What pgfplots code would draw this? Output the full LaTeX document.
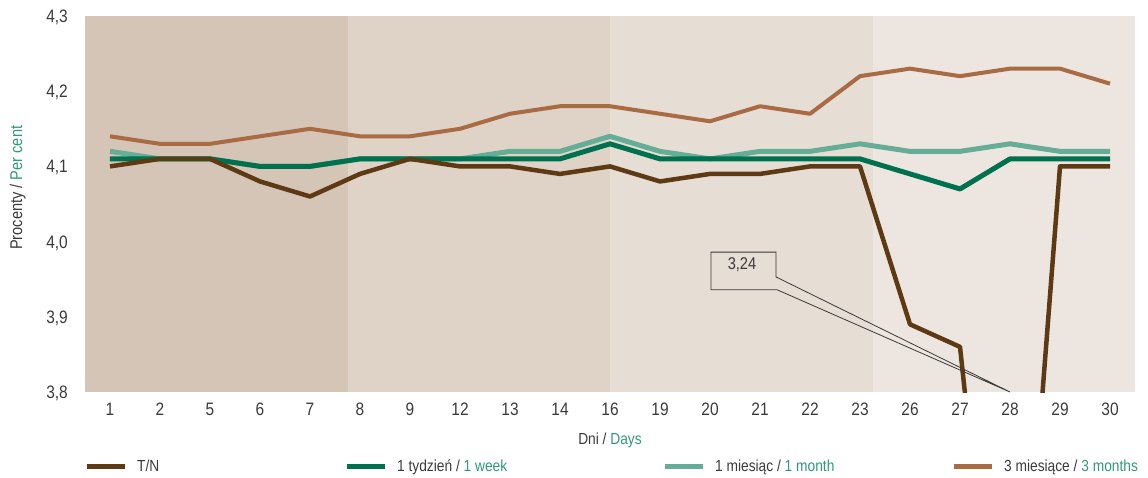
\documentclass[border=0pt]{standalone}
\usepackage{pgfplots}
\pgfplotsset{compat=1.18}
\usepackage{fontspec}
\setmainfont{Liberation Sans}[FakeStretch=0.86]
\definecolor{tn}{HTML}{5E3A14}
\definecolor{wk}{HTML}{00714F}
\definecolor{mo}{HTML}{66AD97}
\definecolor{tm}{HTML}{A86B43}
\definecolor{bandA}{HTML}{D5C5B6}
\definecolor{bandB}{HTML}{DFD3C7}
\definecolor{bandC}{HTML}{E6DDD4}
\definecolor{bandD}{HTML}{EDE6E0}
\definecolor{txt}{HTML}{3A3A3A}
\definecolor{eng}{HTML}{2E9A78}
\pgfplotstableread{
x tn wk mo tm
0 4.10 4.11 4.12 4.14
1 4.11 4.11 4.11 4.13
2 4.11 4.11 4.11 4.13
3 4.08 4.10 4.10 4.14
4 4.06 4.10 4.10 4.15
5 4.09 4.11 4.11 4.14
6 4.11 4.11 4.11 4.14
7 4.10 4.11 4.11 4.15
8 4.10 4.11 4.12 4.17
9 4.09 4.11 4.12 4.18
10 4.10 4.13 4.14 4.18
11 4.08 4.11 4.12 4.17
12 4.09 4.11 4.11 4.16
13 4.09 4.11 4.12 4.18
14 4.10 4.11 4.12 4.17
15 4.10 4.11 4.13 4.22
16 3.89 4.09 4.12 4.23
17 3.86 4.07 4.12 4.22
18 3.24 4.11 4.13 4.23
19 4.10 4.11 4.12 4.23
20 4.10 4.11 4.12 4.21
}\data
\begin{document}
\begin{tikzpicture}
\begin{axis}[
  set layers,
  scale only axis,
  width=1050pt, height=376pt,
  xmin=-0.5, xmax=20.5, ymin=3.8, ymax=4.3,
  xtick={0,...,20},
  xticklabels={1,2,5,6,7,8,9,12,13,14,16,19,20,21,22,23,26,27,28,29,30},
  ytick={3.8,3.9,4.0,4.1,4.2,4.3},
  yticklabel style={/pgf/number format/use comma, /pgf/number format/fixed,
    /pgf/number format/fixed zerofill, /pgf/number format/precision=1,
    /pgf/number format/assume math mode=true},
  axis line style={draw=none},
  major tick length=0pt,
  ymajorgrids,
  major grid style={white, line width=2pt},
  tick label style={font=\fontsize{18}{20}\selectfont, text=txt, inner sep=0pt},
  xticklabel style={anchor=north, yshift=-11pt},
  yticklabel style={anchor=base east, xshift=-17pt, yshift=-6.5pt},
  xlabel={Dni / \textcolor{eng}{Days}},
  ylabel={Procenty / \textcolor{eng}{Per cent}},
  label style={font=\fontsize{16}{18}\selectfont, text=txt},
  xlabel style={at={(axis description cs:0.5,-0.128)}, anchor=center},
  ylabel style={font=\fontsize{17}{19}\selectfont, at={(axis description cs:-0.064,0.543)}, anchor=center},
  reverse legend,
  legend columns=4,
  legend image code/.code={\draw[#1, line width=5pt] (0pt,0pt) -- (38pt,0pt);},
  legend style={draw=none, fill=none, at={(axis description cs:-0.001,-0.197)}, anchor=west,
    font=\fontsize{16}{18}\selectfont, text=txt,
    inner sep=0pt, column sep=0pt,
    nodes={inner sep=0pt},
    /tikz/every odd column/.append style={column sep=10pt}},
]
\fill[bandA, on layer=axis background] (rel axis cs:0,0) rectangle (rel axis cs:0.25,1);
\fill[bandB, on layer=axis background] (rel axis cs:0.25,0) rectangle (rel axis cs:0.5,1);
\fill[bandC, on layer=axis background] (rel axis cs:0.5,0) rectangle (rel axis cs:0.75,1);
\fill[bandD, on layer=axis background] (rel axis cs:0.75,0) rectangle (rel axis cs:1,1);
\addplot[tm, line width=4pt, line join=round, no markers] table[x=x, y=tm] {\data};
\addlegendentry{3 miesiące / \textcolor{eng}{3 months}}
\addplot[mo, line width=5pt, line join=round, no markers] table[x=x, y=mo] {\data};
\addlegendentry{\makebox[236pt][l]{1 miesiąc / \textcolor{eng}{1 month}}}
\addplot[wk, line width=5pt, line join=round, no markers] table[x=x, y=wk] {\data};
\addlegendentry{\makebox[265pt][l]{1 tydzień / \textcolor{eng}{1 week}}}
\addplot[tn, line width=4.5pt, line join=round, no markers] table[x=x, y=tn] {\data};
\addlegendentry{\makebox[207pt][l]{T/N}}
\draw[txt, line width=0.8pt] (axis cs:12.02,3.986) -- (axis cs:13.32,3.986) -- (axis cs:13.32,3.953)
  -- (axis cs:18,3.8) -- (axis cs:13.34,3.936) -- (axis cs:12.02,3.936) -- cycle;
\node[font=\fontsize{17}{19}\selectfont, text=txt] at (axis cs:12.64,3.970) {3,24};
\end{axis}
\path (-85pt,-85pt) rectangle (1063pt,392pt);
\end{tikzpicture}
\end{document}
